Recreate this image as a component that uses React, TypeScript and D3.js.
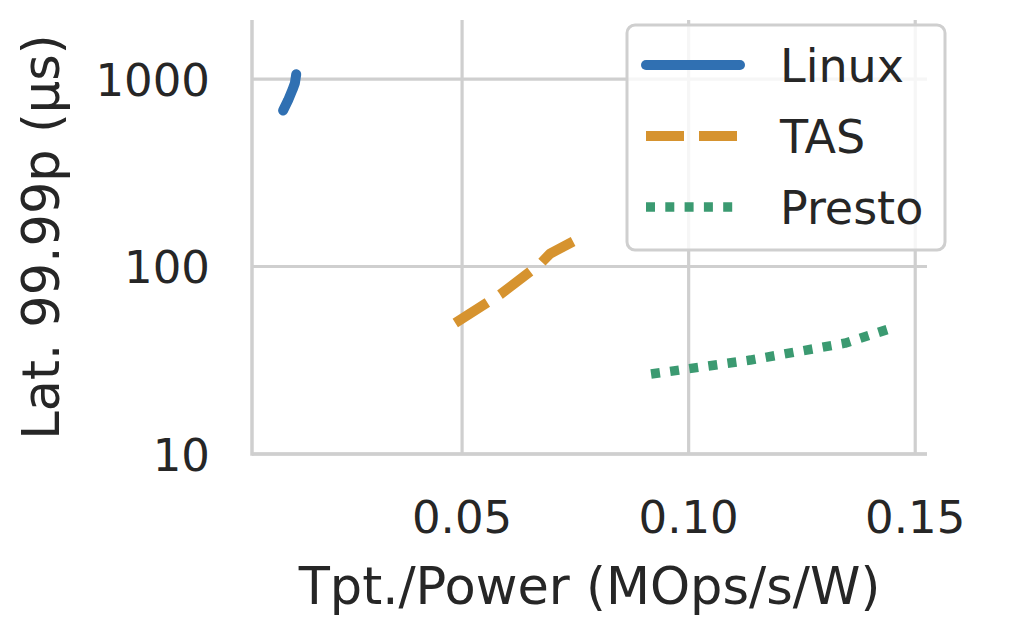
import React from 'react'
import * as d3 from 'd3'

interface Pt {
    x: number
    y: number
}

// Tpt./Power (MOps/s/W) vs 99.99p latency (µs)
const linuxX = [0.0105, 0.0116, 0.0126, 0.0131, 0.0134]
const linuxY = [680, 770, 880, 950, 1060]

const tasX = [0.0485, 0.0584, 0.0672, 0.0694, 0.0745]
const tasY = [50, 71, 103, 117, 136]

const prestoX = [0.0917, 0.1136, 0.1345, 0.1443]
const prestoY = [26.7, 31.7, 39, 46.5]

const xTicks = [0.05, 0.1, 0.15]
const yTicks = [10, 100, 1000]

const seriesNames = ['Linux', 'TAS', 'Presto']
const colors = ['#3070b2', '#d6932f', '#3b9a71']
const dashes = ['none', '38 15', '9 10.3']

const W = 1024
const H = 631
const margin = { top: 20, right: 97, bottom: 177, left: 252 }
const FONT = '"DejaVu Sans", sans-serif'
const TEXT = '#262626'
const GRID = '#cfcfcf'

const App: React.FC = () => {
    const x = d3
        .scaleLinear()
        .domain([0.00364, 0.1526])
        .range([margin.left, W - margin.right])
    const y = d3
        .scaleLog()
        .domain([10, 2065])
        .range([H - margin.bottom, margin.top])

    const line = d3
        .line<Pt>()
        .x((d) => x(d.x))
        .y((d) => y(d.y))

    const zip = (xs: number[], ys: number[]): Pt[] =>
        xs.map((v, i) => ({ x: v, y: ys[i] }))
    const series = [
        zip(linuxX, linuxY),
        zip(tasX, tasY),
        zip(prestoX, prestoY),
    ]

    const [x0, x1] = x.range()
    const [y0, y1] = y.range()

    // legend
    const lg = { x: 627, y: 25, w: 318, h: 225 }
    const rowY = [65, 136, 207]

    return (
        <div style={{ position: 'fixed', left: 0, top: 0 }}>
            <svg width={W} height={H} style={{ display: 'block', background: '#fff' }}>
                {/* grid */}
                {xTicks.map((t) => (
                    <line key={'gx' + t} x1={x(t)} x2={x(t)} y1={y1} y2={y0}
                        stroke={GRID} strokeWidth={3.2} />
                ))}
                {yTicks.map((t) => (
                    <line key={'gy' + t} x1={x0} x2={x1} y1={y(t)} y2={y(t)}
                        stroke={GRID} strokeWidth={3.2} />
                ))}
                {/* spines */}
                <line x1={x0} x2={x0} y1={y1} y2={y0 + 1.75} stroke={GRID} strokeWidth={3.5} />
                <line x1={x0} x2={x1} y1={y0} y2={y0} stroke={GRID} strokeWidth={3.5} />

                {/* tick labels */}
                {xTicks.map((t) => (
                    <text key={'tx' + t} x={x(t)} y={533} textAnchor="middle"
                        fontFamily={FONT} fontSize={45} fill={TEXT}>
                        {d3.format('.2f')(t)}
                    </text>
                ))}
                {yTicks.map((t) => (
                    <text key={'ty' + t} x={210} y={y(t) + 16.5} textAnchor="end"
                        fontFamily={FONT} fontSize={45} fill={TEXT}>
                        {t}
                    </text>
                ))}

                {/* axis labels */}
                <text x={(x0 + x1) / 2} y={604} textAnchor="middle"
                    fontFamily={FONT} fontSize={51} fill={TEXT}>
                    Tpt./Power (MOps/s/W)
                </text>
                <text transform={`translate(59,${(y0 + y1) / 2}) rotate(-90)`} textAnchor="middle"
                    fontFamily={FONT} fontSize={51} fill={TEXT}>
                    Lat. 99.99p (µs)
                </text>

                {/* series */}
                {series.map((s, i) => (
                    <path key={seriesNames[i]} d={line(s) ?? ''} fill="none"
                        stroke={colors[i]} strokeWidth={i === 2 ? 9.5 : 10}
                        strokeDasharray={dashes[i]}
                        strokeLinecap={i === 0 ? 'round' : 'butt'}
                        strokeLinejoin="round" />
                ))}

                {/* legend */}
                <rect x={lg.x} y={lg.y} width={lg.w} height={lg.h} rx={8}
                    fill="#fff" fillOpacity={0.8} stroke={GRID} strokeWidth={3} />
                {seriesNames.map((n, i) => (
                    <g key={'lg' + n}>
                        <line x1={646} x2={740} y1={rowY[i]} y2={rowY[i]}
                            stroke={colors[i]} strokeWidth={i === 2 ? 9.5 : 10}
                            strokeDasharray={dashes[i]}
                            strokeLinecap={i === 0 ? 'round' : 'butt'} />
                        <text x={780} y={rowY[i] + 17} fontFamily={FONT} fontSize={46} fill={TEXT}>
                            {n}
                        </text>
                    </g>
                ))}
            </svg>
        </div>
    )
}

export default App
